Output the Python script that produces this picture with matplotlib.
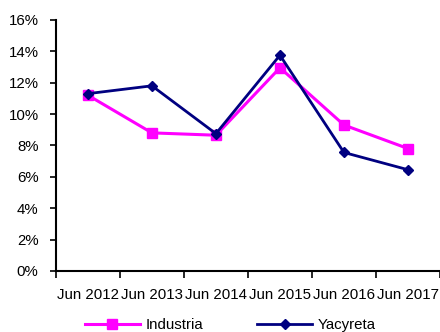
import matplotlib
matplotlib.use("Agg")
import matplotlib.pyplot as plt
from matplotlib.ticker import FixedLocator, PercentFormatter

categories = ["Jun 2012", "Jun 2013", "Jun 2014", "Jun 2015", "Jun 2016", "Jun 2017"]
industria = [11.2, 8.8, 8.65, 12.95, 9.3, 7.8]
yacyreta = [11.3, 11.8, 8.75, 13.75, 7.55, 6.45]

plt.rcParams['font.family'] = ['Liberation Sans', 'DejaVu Sans']

fig = plt.figure(figsize=(4.4, 3.32), dpi=100)
ax = fig.add_axes([0.127, 0.184, 0.873, 0.756])

x = list(range(len(categories)))
ax.plot(x, industria, color="#FF00FF", lw=2.2, marker="s", ms=7, label="Industria", clip_on=False)
ax.plot(x, yacyreta, color="#000080", lw=2.0, marker="D", ms=5.5, label="Yacyreta", clip_on=False)

ax.set_xlim(-0.5, 5.5)
ax.set_ylim(0, 16)
ax.set_yticks(range(0, 17, 2))
ax.yaxis.set_major_formatter(PercentFormatter(decimals=0))
ax.set_xticks(x)
ax.set_xticklabels(categories)
ax.xaxis.set_minor_locator(FixedLocator([i - 0.5 for i in range(len(categories) + 1)]))
ax.tick_params(axis="x", which="major", length=0, pad=12, labelsize=10.8)
ax.tick_params(axis="x", which="minor", length=5, width=1.2, direction="out")
ax.tick_params(axis="y", length=4.5, width=1.2, direction="out", labelsize=10.8, pad=8)

for s in ["top", "right"]:
    ax.spines[s].set_visible(False)
for s in ["left", "bottom"]:
    ax.spines[s].set_linewidth(1.5)

fig.legend(loc="center", bbox_to_anchor=(0.523, 0.02), ncol=2, frameon=False,
           fontsize=10.8, handlelength=3.7, columnspacing=3.6, handletextpad=0.35)

fig.savefig("out.png", dpi=100)
